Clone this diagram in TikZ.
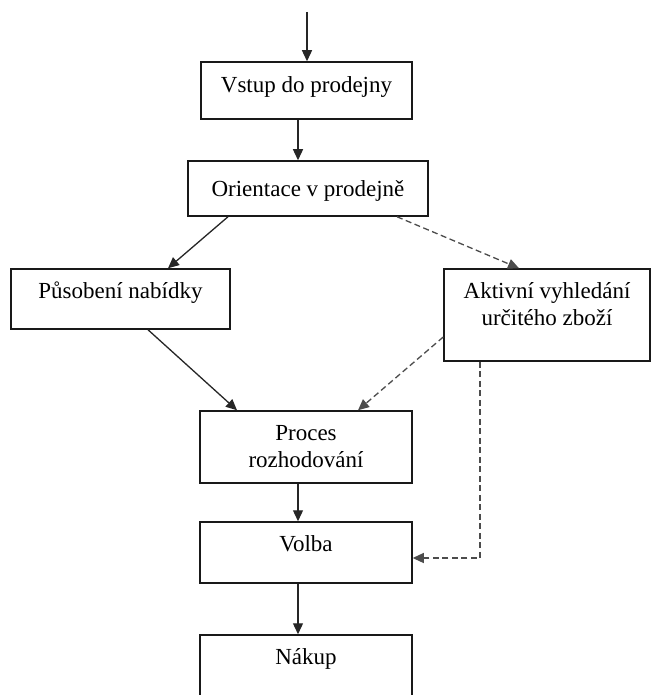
\documentclass[tikz,border=0pt]{standalone}
\usepackage{fontspec}
\setmainfont{Liberation Serif}
\usetikzlibrary{arrows.meta}

\begin{document}
\begin{tikzpicture}[x=1pt, y=-1pt,
  box/.style={draw=black!90, line width=1.5pt, rectangle, inner sep=0pt},
  txt/.style={anchor=base, align=center, inner sep=0pt, font=\fontsize{23}{27}\selectfont},
  pil/.style={-{Triangle[length=11pt,width=10pt]}, line width=1.3pt, draw=black!85},
  cara/.style={pil, draw=black!70, dash pattern=on 6pt off 3.5pt}]
  \clip (0,0) rectangle (651,695);

  % boxy: střed, šířka, výška
  \node[box, minimum width=211pt, minimum height=57pt] (vstup)  at (306.5,90.5) {};
  \node[box, minimum width=240pt, minimum height=55pt] (orient) at (308,188.5) {};
  \node[box, minimum width=219pt, minimum height=60pt] (pusob)  at (120.5,299) {};
  \node[box, minimum width=206pt, minimum height=92pt] (aktiv)  at (547,315) {};
  \node[box, minimum width=212pt, minimum height=72pt] (proces) at (306,447) {};
  \node[box, minimum width=212pt, minimum height=61pt] (volba)  at (306,552.5) {};
  \node[box, minimum width=212pt, minimum height=90pt] (nakup)  at (306,680) {};

  % texty (u dvou řádků je base na posledním řádku)
  \node[txt] (tvstup)  at ([yshift=-31pt]vstup.north)  {Vstup do prodejny};
  \node[txt] (torient) at ([yshift=-36pt]orient.north) {Orientace v prodejně};
  \node[txt] (tpusob)  at ([yshift=-30pt]pusob.north)  {Působení nabídky};
  \node[txt] (taktiv)  at ([yshift=-57pt]aktiv.north)  {Aktivní vyhledání\\určitého zboží};
  \node[txt] (tproces) at ([yshift=-57pt]proces.north) {Proces\\rozhodování};
  \node[txt] (tvolba)  at ([yshift=-30pt]volba.north)  {Volba};
  \node[txt] (tnakup)  at ([yshift=-30pt]nakup.north)  {Nákup};

  % svislá osa šipek
  \coordinate (vstupni) at (307,12);
  \coordinate (osa) at (298,0);

  % plné šipky
  \draw[pil] (vstupni) -- (vstupni |- vstup.north);
  \draw[pil] (vstup.south -| osa) -- (orient.north -| osa);
  \draw[pil] ([xshift=-80pt]orient.south) -- ([xshift=47.5pt]pusob.north);
  \draw[pil] ([xshift=27.5pt]pusob.south) -- ([xshift=-69pt]proces.north);
  \draw[pil] (proces.south -| osa) -- (volba.north -| osa);
  \draw[pil] (volba.south -| osa) -- (nakup.north -| osa);

  % čárkované šipky
  \draw[cara] ([xshift=89pt]orient.south) -- ([xshift=-28pt]aktiv.north);
  \draw[cara] ([yshift=-22pt]aktiv.west) -- ([xshift=52pt]proces.north);
  \draw[cara] ([xshift=-67pt]aktiv.south) |- ([yshift=-5.5pt]volba.east);
\end{tikzpicture}
\end{document}
